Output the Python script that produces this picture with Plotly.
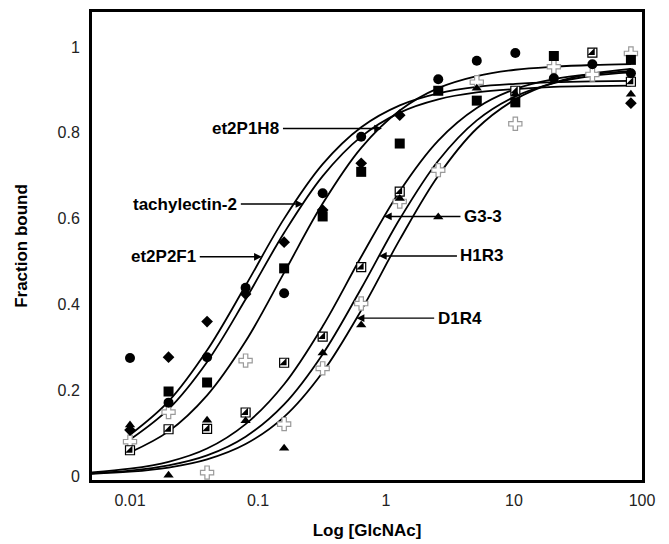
import math
import plotly.graph_objects as go

# ---- data -------------------------------------------------------------
conc = [0.01, 0.02, 0.04, 0.08, 0.16, 0.32, 0.64, 1.28, 2.56, 5.12, 10.24, 20.48, 40.96, 81.92]

# measured points (None = not visible / hidden)
circle_pts = [0.275, 0.171, 0.277, 0.439, 0.426, 0.659, 0.791, None, 0.925, 0.968, 0.986, 0.927, 0.960, 0.939]
diamond_pts = [0.107, 0.277, 0.360, 0.424, 0.545, 0.620, 0.729, 0.841, None, None, None, None, None, 0.869]
square_pts = [None, 0.197, 0.218, None, 0.484, 0.605, 0.709, 0.775, 0.898, 0.875, 0.871, 0.979, None, 0.970]
triangle_pts = [0.119, 0.002, 0.130, 0.129, 0.065, 0.287, 0.352, 0.647, 0.604, 0.904, 0.890, None, None, 0.890]
halfsq_pts = [0.060, 0.109, 0.110, 0.148, 0.264, 0.325, 0.487, 0.663, None, None, 0.898, None, 0.987, 0.919]
cross_pts = [0.080, 0.149, 0.008, 0.269, 0.121, 0.251, 0.402, 0.640, 0.713, 0.918, 0.821, 0.954, 0.936, 0.985]

# fitted binding curves
curve_conc_fast = [0.01, 0.02, 0.04, 0.08, 0.16, 0.32, 0.64, 1.28, 2.56, 5.12, 10.24, 20.48, 40.96, 81.92]
curve_conc_slow = [0.005, 0.01, 0.02, 0.04, 0.08, 0.16, 0.32, 0.64, 1.28, 2.56, 5.12, 10.24, 20.48, 40.96, 81.92]

curve_et2P2F1 = [0.096, 0.174, 0.293, 0.444, 0.600, 0.727, 0.813, 0.864, 0.892, 0.907, 0.914, 0.918, 0.920, 0.921]
curve_tachylectin2 = [0.085, 0.156, 0.266, 0.412, 0.567, 0.699, 0.791, 0.847, 0.878, 0.894, 0.902, 0.907, 0.909, 0.910]
curve_et2P1H8 = [0.055, 0.104, 0.188, 0.314, 0.474, 0.635, 0.765, 0.852, 0.904, 0.932, 0.947, 0.954, 0.958, 0.960]
curve_G3_3 = [0.0086, 0.017, 0.033, 0.064, 0.121, 0.214, 0.349, 0.511, 0.664, 0.782, 0.858, 0.902, 0.925, 0.937, 0.944]
curve_H1R3 = [0.0063, 0.0125, 0.0247, 0.048, 0.0916, 0.167, 0.284, 0.437, 0.599, 0.735, 0.829, 0.885, 0.916, 0.933, 0.941]
curve_D1R4 = [0.005, 0.010, 0.0198, 0.0388, 0.0746, 0.138, 0.242, 0.386, 0.551, 0.700, 0.810, 0.878, 0.917, 0.938, 0.949]

x_ticks = [0.01, 0.1, 1, 10, 100]
x_tick_labels = ["0.01", "0.1", "1", "10", "100"]
y_ticks = [0, 0.2, 0.4, 0.6, 0.8, 1]
y_tick_labels = ["0", "0.2", "0.4", "0.6", "0.8", "1"]

# label -> (arrow tip conc, arrow tip fraction, text offset px)
labels = [
    ("et2P1H8", 0.93, 0.810, -136),
    ("tachylectin-2", 0.226, 0.634, -118),
    ("et2P2F1", 0.107, 0.511, -98),
    ("G3-3", 0.964, 0.605, 99),
    ("H1R3", 0.881, 0.513, 103),
    ("D1R4", 0.59, 0.368, 103),
]

FONT = "Arial, 'Liberation Sans', Helvetica, sans-serif"

fig = go.Figure()

curves = [
    (curve_conc_fast, curve_et2P2F1, "et2P2F1 fit"),
    (curve_conc_fast, curve_tachylectin2, "tachylectin-2 fit"),
    (curve_conc_fast, curve_et2P1H8, "et2P1H8 fit"),
    (curve_conc_slow, curve_G3_3, "G3-3 fit"),
    (curve_conc_slow, curve_H1R3, "H1R3 fit"),
    (curve_conc_slow, curve_D1R4, "D1R4 fit"),
]
for xs, ys, name in curves:
    fig.add_trace(go.Scatter(x=xs, y=ys, mode="lines", name=name,
                             line=dict(color="black", width=1.8, shape="spline", smoothing=1.0),
                             hoverinfo="skip"))

def add_markers(ys, symbol, size, color="black", line_color="black", line_width=0, name=""):
    fig.add_trace(go.Scatter(x=conc, y=ys, mode="markers", name=name,
                             marker=dict(symbol=symbol, size=size, color=color,
                                         line=dict(color=line_color, width=line_width))))

add_markers(cross_pts, "cross", 11, color="white", line_color="#9a9a9a", line_width=1.2, name="D1R4")
add_markers(halfsq_pts, "square", 9, color="white", line_color="black", line_width=1.2, name="H1R3")
add_markers(halfsq_pts, "triangle-se", 8, color="black", name="H1R3 fill")
add_markers(triangle_pts, "triangle-up", 9, name="G3-3")
add_markers(square_pts, "square", 10, name="et2P1H8")
add_markers(diamond_pts, "diamond", 9, name="et2P2F1")
add_markers(circle_pts, "circle", 10, name="tachylectin-2")

for text, tx, ty, off in labels:
    fig.add_annotation(x=math.log10(tx), y=ty, xref="x", yref="y",
                       text="<b>%s</b>" % text, showarrow=True,
                       ax=off, ay=0, axref="pixel", ayref="pixel",
                       arrowhead=2, arrowsize=1.1, arrowwidth=1.4, arrowcolor="black",
                       borderpad=3, standoff=0,
                       font=dict(family=FONT, size=17, color="black"))

fig.update_layout(
    width=661, height=536,
    margin=dict(l=84, r=27, t=4, b=64),
    paper_bgcolor="white", plot_bgcolor="white",
    showlegend=False,
    font=dict(family=FONT, color="#222"),
)
fig.update_xaxes(type="log", range=[-2.297, 2.0], automargin=False,
                 tickmode="array", tickvals=x_ticks, ticktext=x_tick_labels,
                 ticks="", showgrid=False, zeroline=False,
                 showline=True, linecolor="black", linewidth=3, mirror=True,
                 tickfont=dict(size=16, color="#222"), ticklabelstandoff=4,
                 title=dict(text="<b>Log [GlcNAc]</b>", font=dict(size=17, color="black"), standoff=16))
fig.update_yaxes(range=[-0.0093, 1.0816], automargin=False,
                 tickmode="array", tickvals=y_ticks, ticktext=y_tick_labels,
                 ticks="", showgrid=False, zeroline=False,
                 showline=True, linecolor="black", linewidth=3, mirror=True,
                 tickfont=dict(size=16, color="#222"), ticklabelstandoff=6,
                 title=dict(text="<b>Fraction bound</b>", font=dict(size=17, color="black"), standoff=26))

fig.write_html("out.html")
